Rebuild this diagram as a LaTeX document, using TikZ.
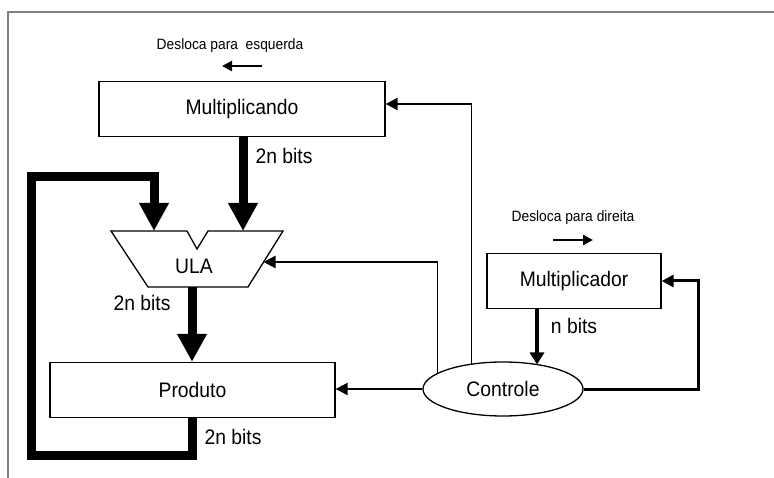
\documentclass[tikz,border=0pt]{standalone}
\usepackage{fontspec}
\setmainfont[FakeStretch=0.92]{Liberation Sans}
\usetikzlibrary{arrows.meta,shapes.geometric}
\begin{document}
\begin{tikzpicture}[x=1pt,y=-1pt,
  box/.style={draw, line width=1.3pt, minimum width=#1, minimum height=55pt, inner sep=0pt, font=\fontsize{21}{21}\selectfont},
  lbl/.style={inner sep=0pt, font=\fontsize{21}{21}\selectfont},
  small/.style={inner sep=0pt, font=\fontsize{15}{15}\selectfont},
  bus/.style={line width=9pt, -{Triangle[width=28pt,length=28pt]}},
  medbus/.style={line width=4pt, -{Triangle[width=14pt,length=12pt]}},
  ctl/.style={line width=2.2pt, -{Triangle[width=12pt,length=12pt]}},
  frame/.style={draw=black!50, line width=1.5pt}
]
\useasboundingbox (0,0) rectangle (774,478);
% frame
\draw[frame] (774,12) -- (8,12) -- (8,478);

% boxes
\node[box=286pt] (mcand) at (242,109) {Multiplicando};
\node[box=285pt] (prod) at (192.5,390) {Produto};
\node[box=174pt] (mplier) at (574,281) {Multiplicador};
\node[draw, ellipse, line width=1.3pt, minimum width=160pt, minimum height=54pt, inner sep=0pt,
      font=\fontsize{21}{21}\selectfont] (ctrl) at (503,389) {Controle};

% ULA
\draw[line width=1.3pt] (111,231) -- (187,231) -- (197,249) -- (208,231) -- (283,231)
  -- (248,287) -- (148,287) -- cycle;
\node[lbl] (ula) at (194,266) {ULA};
\coordinate (ulaA) at (154,231);
\coordinate (ulaB) at (243,231);
\coordinate (ulaO) at (192,287);
\coordinate (ulaR) at (263.5,262);

% shift labels
\node[small] (shl) at (230,46) {Desloca para\ \ esquerda};
\coordinate (shlA) at (262,66);
\coordinate (shlB) at (222,66);
\draw[line width=2.2pt, -{Triangle[width=10pt,length=10pt]}] (shlA) -- (shlB);
\node[small] (shr) at (573,218) {Desloca para direita};
\coordinate (shrA) at (553,240);
\coordinate (shrB) at (593,240);
\draw[line width=2.2pt, -{Triangle[width=10pt,length=10pt]}] (shrA) -- (shrB);

% buses
\draw[bus] (mcand.south -| ulaB) -- (ulaB);
\node[lbl] (l1) at (284,156) {2n bits};
\draw[bus] (ulaO) -- (prod.north -| ulaO);
\node[lbl] (l2) at (142,303) {2n bits};
\coordinate (fb1) at (31,455);
\coordinate (fb2) at (154,177);
\draw[line width=9pt] (prod.south -| ulaO) |- (fb1) |- (fb2) -- ++(0,-4.5);
\draw[bus] ([yshift=4.5pt]fb2) -- (ulaA);
\node[lbl] (l3) at (233,437) {2n bits};

% Multiplicador -> Controle
\coordinate (ctrlN) at (537,364.5);
\draw[medbus] (mplier.south -| ctrlN) -- (ctrlN);
\node[lbl] (l4) at (574,326) {n bits};

% control lines
\draw[ctl] (ctrl.west) -- (ctrl.west -| prod.east);
\draw[line width=1pt] (ctrl.166) -- ++(0,-110) coordinate (c1);
\draw[ctl] (c1 |- ulaR) -- (ulaR);
\draw[line width=1pt] (c1 |- ulaR) -- (c1);
\draw[line width=1pt] (ctrl.141) -- ++(0,-260) coordinate (c2);
\coordinate (mcR) at ([yshift=5pt]mcand.east);
\draw[ctl] (c2 |- mcR) -- (mcR);
\draw[line width=1pt] (c2 |- mcR) -- (c2);
\coordinate (fbR) at (698,281);
\draw[line width=3pt, -{Triangle[width=12pt,length=12pt]}] (ctrl.east) -| (fbR) -- (mplier.east);
\end{tikzpicture}
\end{document}
